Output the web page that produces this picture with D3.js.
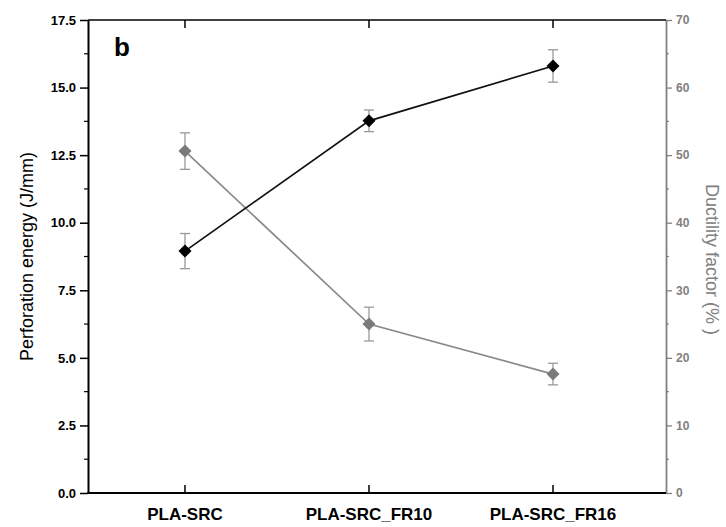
<!DOCTYPE html>
<html>
<head>
<meta charset="utf-8">
<script src="https://cdn.jsdelivr.net/npm/d3@7"></script>
<style>
  body { margin: 0; background: #fff; }
  svg { font-family: 'Liberation Sans', Arial, sans-serif; }
</style>
</head>
<body>
<div id="chart"></div>
<script>
// data
const categories = ['PLA-SRC', 'PLA-SRC_FR10', 'PLA-SRC_FR16'];
const energy = [8.95, 13.77, 15.8];
const energyErr = [0.65, 0.4, 0.6];
const ductility = [50.6, 25.0, 17.6];
const ductilityErr = [2.7, 2.5, 1.6];
const leftTicks = [0, 2.5, 5, 7.5, 10, 12.5, 15, 17.5];
const rightTicks = [0, 10, 20, 30, 40, 50, 60, 70];

const W = 726, H = 527;
const plotLeft = 88, plotRight = 666, plotTop = 20, plotBottom = 493;
const grey = '#808080';

const svg = d3.select('#chart').append('svg')
    .attr('width', W).attr('height', H);

const x = d3.scaleLinear().domain([-0.527, 2.614]).range([plotLeft, plotRight]);
const yL = d3.scaleLinear().domain([0, 17.5]).range([plotBottom, plotTop]);
const yR = d3.scaleLinear().domain([0, 70]).range([plotBottom, plotTop]);

// left axis
const gl = svg.append('g').attr('transform', `translate(${plotLeft},0)`)
    .call(d3.axisLeft(yL).tickValues(leftTicks).tickFormat(d3.format('.1f')).tickSize(8).tickSizeOuter(0));
gl.select('.domain').attr('stroke', '#000').attr('stroke-width', 2);
gl.selectAll('.tick line').attr('stroke-width', 1.5);
gl.selectAll('.tick text').attr('font-size', 13).attr('font-weight', 'bold').attr('x', -12);
svg.append('g').selectAll('line')
    .data(d3.range(1.25, 17.5, 2.5)).enter().append('line')
    .attr('x1', plotLeft - 4).attr('x2', plotLeft)
    .attr('y1', d => yL(d)).attr('y2', d => yL(d))
    .attr('stroke', '#000').attr('stroke-width', 1.2);

// right axis
const gr = svg.append('g').attr('transform', `translate(${plotRight},0)`)
    .call(d3.axisRight(yR).tickValues(rightTicks).tickSize(6).tickSizeOuter(0));
gr.select('.domain').attr('stroke', grey).attr('stroke-width', 1.8);
gr.selectAll('.tick line').attr('stroke', grey).attr('stroke-width', 1.3);
gr.selectAll('.tick text').attr('fill', grey).attr('font-size', 12).attr('font-weight', 'bold').attr('x', 10);
svg.append('g').selectAll('line')
    .data(d3.range(5, 70, 10)).enter().append('line')
    .attr('x1', plotRight).attr('x2', plotRight + 3)
    .attr('y1', d => yR(d)).attr('y2', d => yR(d))
    .attr('stroke', grey).attr('stroke-width', 1.2);

// top and bottom lines with category ticks
svg.append('line').attr('x1', plotLeft).attr('x2', plotRight).attr('y1', plotTop).attr('y2', plotTop)
    .attr('stroke', '#000').attr('stroke-width', 1.6);
svg.append('line').attr('x1', plotLeft - 1).attr('x2', plotRight).attr('y1', plotBottom).attr('y2', plotBottom)
    .attr('stroke', '#000').attr('stroke-width', 2);
svg.append('g').selectAll('line').data(categories).enter().append('line')
    .attr('x1', (d, i) => x(i)).attr('x2', (d, i) => x(i))
    .attr('y1', plotTop).attr('y2', plotTop + 8)
    .attr('stroke', '#000').attr('stroke-width', 1.5);
svg.append('g').selectAll('line').data(categories).enter().append('line')
    .attr('x1', (d, i) => x(i)).attr('x2', (d, i) => x(i))
    .attr('y1', plotBottom).attr('y2', plotBottom - 8)
    .attr('stroke', '#000').attr('stroke-width', 1.5);

// category labels
svg.append('g').selectAll('text').data(categories).enter().append('text')
    .attr('x', (d, i) => x(i)).attr('y', 520)
    .attr('text-anchor', 'middle')
    .attr('font-size', 17).attr('font-weight', 'bold')
    .text(d => d);

// axis titles
svg.append('text')
    .attr('transform', `translate(33,${(plotTop + plotBottom) / 2}) rotate(-90)`)
    .attr('text-anchor', 'middle').attr('font-size', 18)
    .text('Perforation energy (J/mm)');
svg.append('text')
    .attr('transform', `translate(706,${(plotTop + plotBottom) / 2 + 3}) rotate(90)`)
    .attr('text-anchor', 'middle').attr('font-size', 18).attr('fill', grey)
    .text('Ductility factor (% )');

svg.append('text').attr('x', 114).attr('y', 56)
    .attr('font-size', 26).attr('font-weight', 'bold').text('b');

// series
function drawSeries(vals, errs, y, lineColor, markColor) {
    const g = svg.append('g');
    const line = d3.line().x((d, i) => x(i)).y(d => y(d));
    g.append('path').datum(vals).attr('d', line)
        .attr('fill', 'none').attr('stroke', lineColor).attr('stroke-width', 1.7);
    const eb = g.selectAll('.err').data(vals).enter().append('g');
    eb.append('line')
        .attr('x1', (d, i) => x(i)).attr('x2', (d, i) => x(i))
        .attr('y1', (d, i) => y(d + errs[i])).attr('y2', (d, i) => y(d - errs[i]))
        .attr('stroke', '#999').attr('stroke-width', 1.3);
    ['+', '-'].forEach(s => {
        eb.append('line')
            .attr('x1', (d, i) => x(i) - 5).attr('x2', (d, i) => x(i) + 5)
            .attr('y1', (d, i) => y(s === '+' ? d + errs[i] : d - errs[i]))
            .attr('y2', (d, i) => y(s === '+' ? d + errs[i] : d - errs[i]))
            .attr('stroke', '#999').attr('stroke-width', 1.3);
    });
    g.selectAll('.pt').data(vals).enter().append('path')
        .attr('d', d3.symbol(d3.symbolSquare, 85))
        .attr('transform', (d, i) => `translate(${x(i)},${y(d)}) rotate(45)`)
        .attr('fill', markColor);
}

drawSeries(ductility, ductilityErr, yR, '#8a8a8a', '#7a7a7a');
drawSeries(energy, energyErr, yL, '#111', '#000');
</script>
</body>
</html>
